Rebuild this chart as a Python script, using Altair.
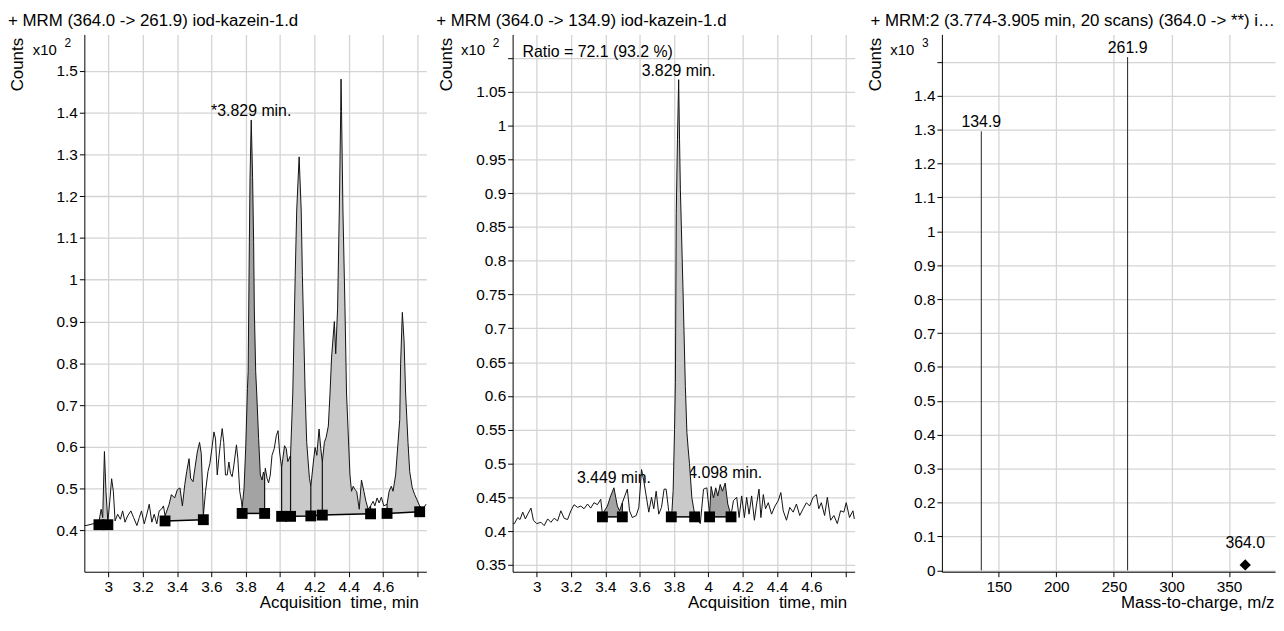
import altair as alt
import pandas as pd

FONT = "Liberation Sans"

# ---------------- data: left chromatogram (364.0 -> 261.9), counts x10^2 ----------------
left_time = [2.862, 2.870, 2.909, 2.929, 2.945, 2.958, 2.967, 2.977, 2.986, 2.997, 3.008, 3.019, 3.029, 3.039,
             3.054, 3.070, 3.083, 3.097, 3.112, 3.131, 3.147, 3.166, 3.180, 3.193, 3.209, 3.224, 3.238, 3.253,
             3.267, 3.282, 3.296, 3.309, 3.321, 3.330, 3.354, 3.367, 3.386, 3.402, 3.417, 3.431, 3.445, 3.456,
             3.470, 3.479, 3.493, 3.504, 3.518, 3.531, 3.541, 3.549, 3.553, 3.566, 3.580, 3.591, 3.605, 3.615,
             3.624, 3.634, 3.643, 3.653, 3.663, 3.672, 3.682, 3.692, 3.702, 3.711, 3.721, 3.731, 3.746, 3.754,
             3.765, 3.775, 3.779, 3.790, 3.800, 3.810, 3.814, 3.821, 3.825, 3.832, 3.840, 3.846, 3.850, 3.858,
             3.864, 3.875, 3.885, 3.895, 3.903, 3.910, 3.914, 3.924, 3.933, 3.943, 3.953, 3.966, 3.978, 3.988,
             3.997, 4.009, 4.016, 4.026, 4.036, 4.045, 4.061, 4.074, 4.088, 4.097, 4.111, 4.123, 4.130, 4.146,
             4.155, 4.171, 4.179, 4.194, 4.204, 4.214, 4.227, 4.237, 4.246, 4.258, 4.268, 4.281, 4.291, 4.300,
             4.316, 4.324, 4.335, 4.345, 4.353, 4.355, 4.358, 4.366, 4.378, 4.387, 4.407, 4.416, 4.426, 4.436,
             4.446, 4.461, 4.474, 4.488, 4.500, 4.513, 4.527, 4.542, 4.552, 4.565, 4.577, 4.590, 4.604, 4.623,
             4.635, 4.648, 4.658, 4.673, 4.687, 4.697, 4.702, 4.712, 4.722, 4.731, 4.745, 4.755, 4.770, 4.784,
             4.797, 4.813, 4.832, 4.850]
left_counts = [0.412, 0.412, 0.416, 0.417, 0.421, 0.451, 0.431, 0.589, 0.494, 0.420, 0.470, 0.524, 0.494, 0.423,
               0.439, 0.427, 0.447, 0.420, 0.435, 0.447, 0.431, 0.412, 0.431, 0.447, 0.416, 0.439, 0.463, 0.420,
               0.439, 0.416, 0.447, 0.451, 0.459, 0.435, 0.463, 0.486, 0.478, 0.498, 0.502, 0.459, 0.510, 0.541,
               0.572, 0.525, 0.517, 0.549, 0.588, 0.611, 0.584, 0.494, 0.435, 0.494, 0.541, 0.560, 0.603, 0.636,
               0.619, 0.533, 0.572, 0.611, 0.644, 0.611, 0.533, 0.533, 0.564, 0.537, 0.529, 0.557, 0.605, 0.572,
               0.494, 0.470, 0.455, 0.500, 0.600, 0.740, 0.780, 1.090, 1.245, 1.382, 1.245, 1.090, 0.930, 0.780,
               0.729, 0.620, 0.533, 0.521, 0.540, 0.530, 0.549, 0.525, 0.514, 0.533, 0.580, 0.596, 0.627, 0.639,
               0.588, 0.550, 0.572, 0.603, 0.596, 0.565, 0.580, 0.729, 1.010, 1.167, 1.294, 1.167, 1.010, 0.729,
               0.611, 0.525, 0.506, 0.564, 0.599, 0.580, 0.643, 0.596, 0.564, 0.611, 0.623, 0.650, 0.729, 0.815,
               0.900, 0.823, 0.932, 1.167, 1.402, 1.480, 1.402, 1.167, 0.932, 0.729, 0.533, 0.494, 0.506, 0.498,
               0.494, 0.451, 0.521, 0.494, 0.470, 0.451, 0.459, 0.470, 0.459, 0.478, 0.466, 0.480, 0.459, 0.463,
               0.494, 0.506, 0.494, 0.533, 0.611, 0.666, 0.799, 0.922, 0.854, 0.729, 0.611, 0.541, 0.502, 0.486,
               0.474, 0.459, 0.451, 0.463]
left_square_time = [2.945, 2.997, 3.330, 3.553, 3.779, 3.910, 4.009, 4.061, 4.179, 4.246, 4.527, 4.623, 4.813]
left_square_base = [0.414, 0.414, 0.423, 0.426, 0.441, 0.441, 0.434, 0.434, 0.435, 0.437, 0.440, 0.441, 0.445]
left_square_seg = [0, 0, 1, 1, 2, 2, 3, 3, 3, 3, 3, 4, 4]
left_fill_pairs = [(0, 1), (2, 3), (4, 5), (6, 7), (7, 8), (8, 9), (9, 10), (11, 12)]
left_fill_shade = ["light", "light", "dark", "light", "light", "light", "light", "light"]
left_label_time = [3.832]
left_label_counts = [1.382]
left_label_text = ["*3.829 min."]

# ---------------- data: middle chromatogram (364.0 -> 134.9), counts x10^2 ----------------
mid_time = [2.862, 2.870, 2.890, 2.903, 2.919, 2.934, 2.948, 2.967, 2.981, 3.000, 3.025, 3.044, 3.064, 3.083,
            3.102, 3.122, 3.141, 3.160, 3.180, 3.199, 3.218, 3.238, 3.257, 3.276, 3.296, 3.315, 3.334, 3.354,
            3.373, 3.383, 3.412, 3.431, 3.450, 3.470, 3.483, 3.499, 3.528, 3.541, 3.557, 3.580, 3.595, 3.611,
            3.624, 3.638, 3.653, 3.669, 3.682, 3.696, 3.711, 3.727, 3.742, 3.754, 3.769, 3.784, 3.788, 3.795,
            3.803, 3.808, 3.813, 3.820, 3.827, 3.832, 3.837, 3.852, 3.866, 3.875, 3.883, 3.890, 3.904, 3.920,
            3.953, 3.972, 3.991, 4.007, 4.016, 4.030, 4.043, 4.055, 4.069, 4.082, 4.098, 4.113, 4.132, 4.146,
            4.165, 4.179, 4.194, 4.210, 4.223, 4.237, 4.252, 4.268, 4.281, 4.295, 4.306, 4.320, 4.333, 4.349,
            4.368, 4.388, 4.407, 4.422, 4.436, 4.455, 4.474, 4.494, 4.513, 4.532, 4.552, 4.571, 4.590, 4.610,
            4.629, 4.643, 4.658, 4.677, 4.693, 4.712, 4.731, 4.751, 4.770, 4.789, 4.803, 4.822, 4.842, 4.850]
mid_counts = [0.411, 0.411, 0.420, 0.417, 0.428, 0.418, 0.425, 0.434, 0.416, 0.411, 0.413, 0.408, 0.418, 0.413,
              0.419, 0.415, 0.430, 0.419, 0.417, 0.430, 0.439, 0.435, 0.437, 0.433, 0.440, 0.434, 0.442, 0.439,
              0.447, 0.425, 0.437, 0.452, 0.464, 0.437, 0.430, 0.442, 0.462, 0.430, 0.420, 0.423, 0.435, 0.491,
              0.474, 0.452, 0.428, 0.450, 0.433, 0.459, 0.425, 0.435, 0.462, 0.462, 0.430, 0.420, 0.430, 0.460,
              0.550, 0.620, 0.870, 0.980, 1.068, 0.980, 0.905, 0.760, 0.614, 0.546, 0.520, 0.500, 0.449, 0.425,
              0.411, 0.462, 0.464, 0.425, 0.466, 0.449, 0.464, 0.452, 0.469, 0.459, 0.471, 0.440, 0.423, 0.445,
              0.450, 0.420, 0.452, 0.420, 0.450, 0.425, 0.452, 0.416, 0.440, 0.462, 0.420, 0.454, 0.433, 0.442,
              0.425, 0.437, 0.445, 0.457, 0.430, 0.416, 0.435, 0.428, 0.440, 0.423, 0.433, 0.442, 0.437, 0.450,
              0.454, 0.433, 0.442, 0.423, 0.450, 0.416, 0.423, 0.411, 0.430, 0.428, 0.442, 0.420, 0.430, 0.418]
mid_square_time = [3.383, 3.499, 3.784, 3.920, 4.007, 4.132]
mid_square_base = [0.421, 0.421, 0.421, 0.421, 0.421, 0.421]
mid_square_seg = [0, 0, 1, 1, 2, 2]
mid_fill_pairs = [(0, 1), (2, 3), (4, 5)]
mid_fill_shade = ["dark", "light", "dark"]
mid_label_time = [3.450, 3.827, 4.098]
mid_label_counts = [0.464, 1.068, 0.471]
mid_label_text = ["3.449 min.", "3.829 min.", "4.098 min."]
mid_label_dy = [-5, -4, -5]

# ---------------- data: right product-ion spectrum, counts x10^3 ----------------
ms_mz = [134.9, 261.9]
ms_counts = [1.295, 1.514]
ms_label = ["134.9", "261.9"]
precursor_mz = [364.0]
precursor_counts = [0.016]
precursor_label = ["364.0"]

# ---------------- styling ----------------
SHADES = {"light": "#c9c9c9", "dark": "#a3a3a3"}
W_CH, W_MS, H = 345, 336, 542
TIME_DOMAIN = [2.86, 4.852]
TIME_TICKS = [3.0, 3.2, 3.4, 3.6, 3.8, 4.0, 4.2, 4.4, 4.6, 4.8]


def x_axis(title, values, width, fmt="~g", hide_above=None, title_inset=8):
    kw = dict(values=values, format=fmt, title=title, titleX=width - title_inset, titleY=36,
              titleAlign="right", titleBaseline="alphabetic", grid=True, tickSize=5,
              labelPadding=3, labelFlush=False, labelOverlap=False)
    if hide_above is not None:
        kw["labelExpr"] = f"datum.value > {hide_above} ? '' : datum.label"
    return alt.Axis(**kw)


def y_axis(values, hide_above=None):
    kw = dict(values=values, format="~g", title="Counts", titleX=-62, titleY=30, titleAngle=270,
              titleAlign="center", titleBaseline="alphabetic", grid=True, tickSize=5,
              labelPadding=2, labelFlush=False, labelOverlap=False)
    if hide_above is not None:
        kw["labelExpr"] = f"datum.value > {hide_above} ? '' : datum.label"
    return alt.Axis(**kw)


def fixed_text(text, x, y, size, align="left"):
    return alt.Chart(pd.DataFrame({"k": [0]})).mark_text(
        text=text, align=align, baseline="alphabetic", font=FONT, fontSize=size, color="black"
    ).encode(x=alt.value(x), y=alt.value(y))


def chromatogram(times, counts, sq_t, sq_b, sq_seg, pairs, shades, lab_t, lab_c, lab_txt, lab_dy,
                 title, ydom, yvals, yhide, extra_texts):
    xs = alt.Scale(domain=TIME_DOMAIN, nice=False, zero=False)
    ys = alt.Scale(domain=ydom, nice=False, zero=False)
    xax = x_axis("Acquisition\u00a0 time, min", TIME_TICKS, W_CH, hide_above=4.7)
    yax = y_axis(yvals, yhide)

    def X(f):
        return alt.X(f"{f}:Q", scale=xs, axis=xax)

    def Y(f):
        return alt.Y(f"{f}:Q", scale=ys, axis=yax, stack=None)

    trace = pd.DataFrame({"t": times, "v": counts})
    lookup = dict(zip(times, counts))

    rows = []
    for k, ((i, j), shade) in enumerate(zip(pairs, shades)):
        t0, t1, b0, b1 = sq_t[i], sq_t[j], sq_b[i], sq_b[j]
        for t, v in zip(times, counts):
            if t0 - 1e-9 <= t <= t1 + 1e-9:
                rows.append(dict(t=t, v=v, base=b0 + (b1 - b0) * (t - t0) / (t1 - t0),
                                 region=k, shade=SHADES[shade]))
    fill = pd.DataFrame(rows)

    squares = pd.DataFrame({"t": sq_t, "base": sq_b, "seg": sq_seg,
                            "v": [lookup[t] for t in sq_t]})
    labels = pd.DataFrame({"t": lab_t, "v": lab_c, "label": lab_txt})

    layers = []
    for dy_val in sorted(set(lab_dy)):
        sub = labels[[d == dy_val for d in lab_dy]]
        layers.append(alt.Chart(sub).mark_text(
            font=FONT, fontSize=16, color="black", align="center", baseline="alphabetic", dy=dy_val
        ).encode(x=X("t"), y=Y("v"), text="label:N"))

    layers += [
        alt.Chart(fill).mark_area(opacity=1, interpolate="linear").encode(
            x=X("t"), y=Y("v"), y2="base:Q",
            color=alt.Color("shade:N", scale=None), detail="region:N"),
        alt.Chart(trace).mark_line(color="#111111", strokeWidth=1, interpolate="linear").encode(
            x=X("t"), y=Y("v")),
        alt.Chart(squares).mark_rule(color="#111111", strokeWidth=1.2).encode(
            x=X("t"), y=Y("base"), y2="v:Q"),
        alt.Chart(squares).mark_line(color="black", strokeWidth=1.5).encode(
            x=X("t"), y=Y("base"), detail="seg:N"),
        alt.Chart(squares).mark_point(shape="square", filled=True, size=120, color="black", opacity=1).encode(
            x=X("t"), y=Y("base")),
        fixed_text(title, -77, -8, 17),
        fixed_text("x10", -52, 21, 15),
    ] + extra_texts
    return alt.layer(*layers).properties(width=W_CH, height=H)


left = chromatogram(left_time, left_counts, left_square_time, left_square_base, left_square_seg,
                    left_fill_pairs, left_fill_shade, left_label_time, left_label_counts, left_label_text,
                    [-4] * len(left_label_text),
                    "+ MRM (364.0 -> 261.9) iod-kazein-1.d", [0.3015, 1.587],
                    [0.4, 0.5, 0.6, 0.7, 0.8, 0.9, 1.0, 1.1, 1.2, 1.3, 1.4, 1.5], None,
                    [fixed_text("2", -20, 13, 12)])

mid = chromatogram(mid_time, mid_counts, mid_square_time, mid_square_base, mid_square_seg,
                   mid_fill_pairs, mid_fill_shade, mid_label_time, mid_label_counts, mid_label_text,
                   mid_label_dy,
                   "+ MRM (364.0 -> 134.9) iod-kazein-1.d", [0.3398, 1.135],
                   [0.35, 0.4, 0.45, 0.5, 0.55, 0.6, 0.65, 0.7, 0.75, 0.8, 0.85, 0.9, 0.95, 1.0, 1.05, 1.1],
                   1.08,
                   [fixed_text("2", -20, 13, 12), fixed_text("Ratio = 72.1 (93.2 %)", 10, 22.5, 16)])

# ---------------- right spectrum panel ----------------
mz_scale = alt.Scale(domain=[100.7, 100.7 + W_MS / 1.162], nice=False, zero=False)
ms_yscale = alt.Scale(domain=[-0.004, 1.581], nice=False, zero=False)
ms_xax = x_axis("Mass-to-charge, m/z", [150, 200, 250, 300, 350], W_MS, fmt="d", title_inset=1)
ms_yax = y_axis([0, 0.1, 0.2, 0.3, 0.4, 0.5, 0.6, 0.7, 0.8, 0.9, 1.0, 1.1, 1.2, 1.3, 1.4, 1.5], 1.45)

ms_df = pd.DataFrame({"mz": ms_mz, "c": ms_counts, "label": ms_label})
pre_df = pd.DataFrame({"mz": precursor_mz, "c": precursor_counts, "label": precursor_label})


def MX():
    return alt.X("mz:Q", scale=mz_scale, axis=ms_xax)


def MY():
    return alt.Y("c:Q", scale=ms_yscale, axis=ms_yax)


right = alt.layer(
    alt.Chart(ms_df).mark_rule(color="#222222", strokeWidth=1).encode(x=MX(), y=MY(), y2=alt.datum(0)),
    alt.Chart(ms_df).mark_text(font=FONT, fontSize=16, color="black", align="center",
                               baseline="alphabetic", dy=-4).encode(x=MX(), y=MY(), text="label:N"),
    alt.Chart(pre_df).mark_point(shape="diamond", filled=True, size=130, color="black", opacity=1).encode(
        x=MX(), y=MY()),
    alt.Chart(pre_df).mark_text(font=FONT, fontSize=16, color="black", align="center",
                                baseline="alphabetic", dy=-17).encode(x=MX(), y=MY(), text="label:N"),
    fixed_text("+ MRM:2 (3.774-3.905 min, 20 scans) (364.0 -> **) i\u2026", -72, -8, 17),
    fixed_text("x10", -52, 21, 15),
    fixed_text("3", -20, 13, 12),
    # white-on-white spacer that sets the left edge of this panel's layout bounds
    alt.Chart(pd.DataFrame({"k": [0]})).mark_rule(color="white", strokeWidth=1).encode(
        x=alt.value(-77), y=alt.value(200), y2=alt.value(201)),
).properties(width=W_MS, height=H)

chart = alt.hconcat(left, mid, right, spacing=8).properties(
    padding={"left": 0, "top": 2, "right": 0, "bottom": 0}
).configure_view(stroke=None).configure_axis(
    labelFont=FONT, labelFontSize=15.5, labelColor="black",
    titleFont=FONT, titleFontSize=17, titleFontWeight="normal", titleColor="black",
    domainColor="black", domainWidth=1, tickColor="black", tickWidth=1,
    gridColor="#d4d4d4", gridWidth=1.3,
)

chart.save("out.html", embed_options={"renderer": "svg", "actions": False})
